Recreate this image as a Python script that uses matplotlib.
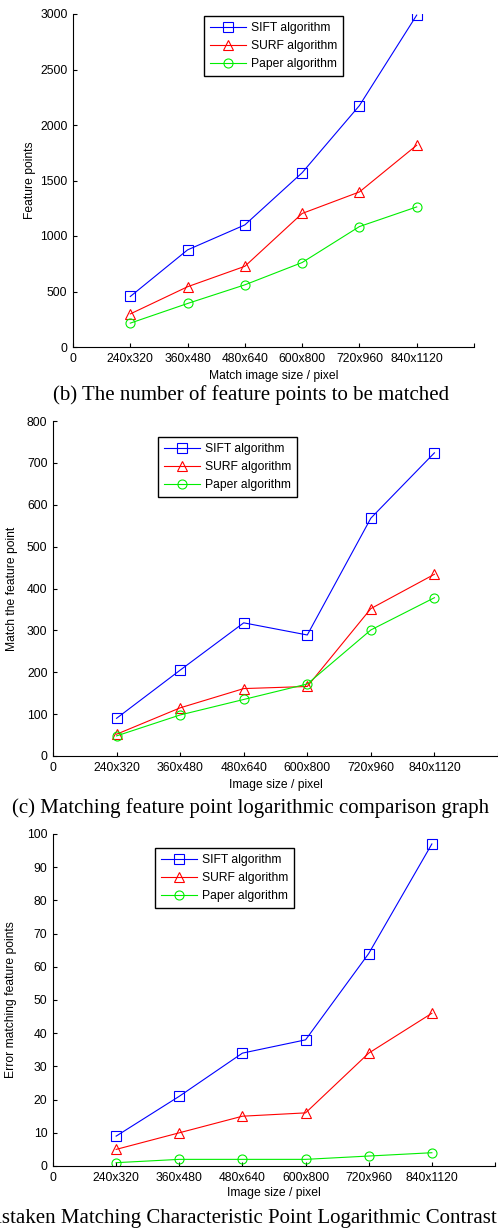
import numpy as np
import matplotlib
matplotlib.use('Agg')
import matplotlib.pyplot as plt

plt.rcParams['font.family'] = ['Liberation Sans', 'DejaVu Sans']

sizes = ['240x320', '360x480', '480x640', '600x800', '720x960', '840x1120']
series_names = ['SIFT algorithm', 'SURF algorithm', 'Paper algorithm']

# (b) feature points to be matched
sift_b = [455, 875, 1100, 1570, 2175, 2990]
surf_b = [298, 543, 727, 1203, 1397, 1818]
paper_b = [215, 392, 560, 761, 1085, 1262]

# (c) matched feature points
sift_c = [90, 205, 318, 289, 568, 724]
surf_c = [52, 115, 161, 166, 352, 434]
paper_c = [48, 98, 135, 172, 301, 378]

# (d) mistaken matches
sift_d = [9, 21, 34, 38, 64, 97]
surf_d = [5, 10, 15, 16, 34, 46]
paper_d = [1, 2, 2, 2, 3, 4]

W, H = 498, 1228
fig = plt.figure(figsize=(W / 100, H / 100), dpi=100)

def px_axes(l, r, t, b):
    return fig.add_axes([l / W, 1 - b / H, (r - l) / W, (b - t) / H])

styles = [('blue', 's'), ('red', '^'), ('#00ee00', 'o')]

panels = [
    dict(box=(73, 474, 14, 347), data=(sift_b, surf_b, paper_b), ymax=3000, ystep=500,
         ylabel='Feature points', xlabel='Match image size / pixel',
         leg=(204, 16), ylab_x=30, xlab_y=376,
         cap='(b) The number of feature points to be matched', cap_y=395, cap_x=251, cap_ha='center'),
    dict(box=(53, 498, 421, 756), data=(sift_c, surf_c, paper_c), ymax=800, ystep=100,
         ylabel='Match the feature point', xlabel='Image size / pixel',
         leg=(158, 437), ylab_x=12, xlab_y=785,
         cap='(c) Matching feature point logarithmic comparison graph', cap_y=808, cap_x=251, cap_ha='center'),
    dict(box=(53, 495, 834, 1166), data=(sift_d, surf_d, paper_d), ymax=100, ystep=10,
         ylabel='Error matching feature points', xlabel='Image size / pixel',
         leg=(155, 848), ylab_x=11, xlab_y=1193,
         cap='(d) Mistaken Matching Characteristic Point Logarithmic Contrast', cap_y=1218, cap_x=497, cap_ha='right'),
]

x = np.arange(1, len(sizes) + 1)

for p in panels:
    ax = px_axes(*p['box'])
    for vals, name, (c, m) in zip(p['data'], series_names, styles):
        ax.plot(x, vals, color=c, marker=m, markersize=6.5, markerfacecolor='none',
                markeredgecolor=c, linewidth=0.8, markeredgewidth=0.8, label=name)
    ax.set_xlim(0, 7)
    ax.set_ylim(0, p['ymax'])
    ax.set_xticks(range(0, 8))
    ax.set_xticklabels(['0'] + sizes + [''])
    ax.set_yticks(np.arange(0, p['ymax'] + 1, p['ystep']))
    ax.tick_params(direction='in', length=3, labelsize=8.7, width=0.8, pad=4)
    for s in ['top', 'right']:
        ax.spines[s].set_visible(False)
    for s in ['left', 'bottom']:
        ax.spines[s].set_linewidth(0.8)
    ax.set_ylabel(p['ylabel'], fontsize=8.7, va='center')
    ax.yaxis.set_label_coords((p['ylab_x'] - p['box'][0]) / (p['box'][1] - p['box'][0]), 0.5)
    ax.set_xlabel(p['xlabel'], fontsize=8.7, va='center')
    ax.xaxis.set_label_coords(0.5, -(p['xlab_y'] - p['box'][3]) / (p['box'][3] - p['box'][2]))
    leg = ax.legend(loc='upper left', bbox_to_anchor=(p['leg'][0] / W, 1 - p['leg'][1] / H),
                    bbox_transform=fig.transFigure, borderaxespad=0, fancybox=False,
                    fontsize=8.7, handlelength=3.0, handletextpad=0.4, framealpha=1,
                    edgecolor='black', labelspacing=0.5, borderpad=0.5)
    leg.get_frame().set_linewidth(1.0)
    fig.text(p['cap_x'] / W, 1 - p['cap_y'] / H, p['cap'], ha=p['cap_ha'], va='center',
             fontsize=15, family='Liberation Serif')

fig.savefig('out.png', dpi=100)
